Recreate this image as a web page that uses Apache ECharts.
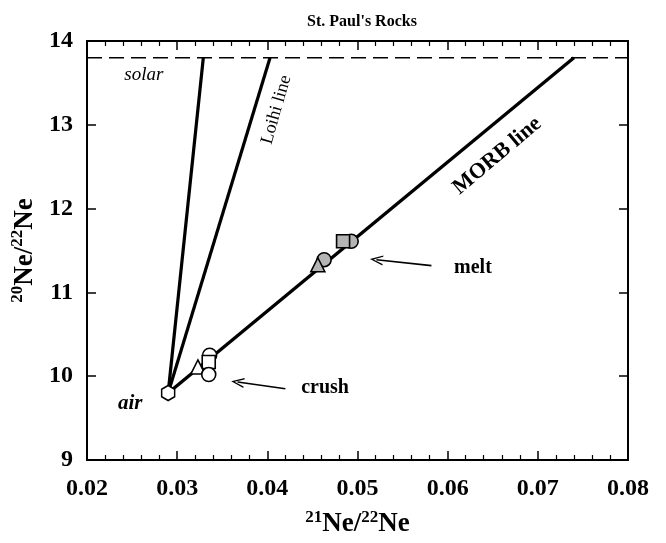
<!DOCTYPE html>
<html>
<head>
<meta charset="utf-8">
<script src="https://cdn.jsdelivr.net/npm/echarts@6/dist/echarts.min.js"></script>
<style>
html,body{margin:0;padding:0;background:#fff;}
#c{width:666px;height:543px;}
</style>
</head>
<body>
<div id="c"></div>
<script>
// ---- data ----
const xTicks = [0.02, 0.03, 0.04, 0.05, 0.06, 0.07, 0.08];
const yTicks = [9, 10, 11, 12, 13, 14];
const airPoint = [[0.0290, 9.80]];
const solarLine = [[0.0290, 9.80], [0.0329, 13.8]];
const loihiLine = [[0.0290, 9.80], [0.0403, 13.8]];
const morbLine = [[0.0290, 9.80], [0.0740, 13.8]];
const solarRef = [[0.02, 13.8], [0.08, 13.8]];
const crushCircleBack = [[0.0336, 10.25]];
const crushSquare = [[0.0335, 10.17]];
const crushCircleFront = [[0.0335, 10.02]];
const crushTriangle = [[0.0323, 10.11]];
const meltCircle = [[0.0493, 11.61], [0.0463, 11.39]];
const meltSquare = [[0.0484, 11.61]];
const meltTriangle = [[0.0456, 11.33]];
const annoText = ['solar', 'Loihi line', 'MORB line', 'air', 'crush', 'melt'];
const annoX = [0.0263, 0.0410, 0.0655, 0.0248, 0.0464, 0.0628];
const annoY = [13.60, 13.18, 12.63, 9.67, 9.86, 11.29];
const arrowTail = [[0.0420, 9.85], [0.0582, 11.32]];
const arrowTip = [[0.0367, 9.93], [0.0521, 11.39]];

// ---- styles ----
const SERIF = '"Liberation Serif","DejaVu Serif",serif';
const annoStyle = [
  {fontStyle:'italic', fontWeight:'normal', fontSize:19, rotate:0},
  {fontStyle:'normal', fontWeight:'normal', fontSize:18, rotate:74},
  {fontStyle:'normal', fontWeight:'bold', fontSize:22, rotate:40},
  {fontStyle:'italic', fontWeight:'bold', fontSize:21, rotate:0},
  {fontStyle:'normal', fontWeight:'bold', fontSize:20, rotate:0},
  {fontStyle:'normal', fontWeight:'bold', fontSize:20, rotate:0}
];
const hexPath = 'path://M5,0 L10,2.9 L10,8.7 L5,11.6 L0,8.7 L0,2.9 Z';
const chevron = 'path://M5,0 L10,12 L8.6,12 L5,3.2 L1.4,12 L0,12 Z';

const chart = echarts.init(document.getElementById('c'), null, {renderer:'canvas'});

const nameRich = {
  n:{fontSize:27, fontWeight:'bold', fontFamily:SERIF, color:'#000', lineHeight:29, verticalAlign:'bottom'},
  s:{fontSize:17, fontWeight:'bold', fontFamily:SERIF, color:'#000', lineHeight:17, verticalAlign:'top'}
};

function axisX(pos, showLabel){
  return {
    type:'value', position:pos, min:xTicks[0], max:xTicks[xTicks.length-1], interval:0.01,
    axisLine:{show:true, onZero:false, lineStyle:{color:'#000', width:2}},
    axisTick:{show:true, inside:true, length:9, lineStyle:{color:'#000', width:1.5}},
    minorTick:{show:true, splitNumber:5, length:5, lineStyle:{color:'#000', width:1.2}},
    splitLine:{show:false},
    axisLabel:{show:showLabel, color:'#000', fontFamily:SERIF, fontWeight:'bold', fontSize:24, margin:17,
      formatter:v=>v.toFixed(2)},
    name: showLabel ? '{s|21}{n|Ne/}{s|22}{n|Ne}' : '',
    nameLocation:'middle', nameGap:49,
    nameTextStyle:{color:'#000', fontFamily:SERIF, fontWeight:'bold', rich:nameRich}
  };
}
function axisY(pos, showLabel){
  return {
    type:'value', position:pos, min:yTicks[0], max:yTicks[yTicks.length-1], interval:1,
    axisLine:{show:true, onZero:false, lineStyle:{color:'#000', width:2}},
    axisTick:{show:true, inside:true, length:9, lineStyle:{color:'#000', width:1.5}},
    splitLine:{show:false},
    axisLabel:{show:showLabel, color:'#000', fontFamily:SERIF, fontWeight:'bold', fontSize:24, margin:14},
    name: showLabel ? '{s|20}{n|Ne/}{s|22}{n|Ne}' : '',
    nameLocation:'middle', nameGap:45, nameRotate:90,
    nameTextStyle:{color:'#000', fontFamily:SERIF, fontWeight:'bold', rich:nameRich}
  };
}

function lineSeries(data, width, type){
  return {type:'line', data:data, symbol:'none', silent:true, animation:false, z:2,
    lineStyle:{color:'#000', width:width, type:type||'solid'}};
}
function markerSeries(data, symbol, size, fill, z){
  return {type:'scatter', data:data, symbol:symbol, symbolSize:size, silent:true, animation:false, z:z,
    itemStyle:{color:fill, borderColor:'#000', borderWidth:1.6, opacity:1}};
}

const annoData = annoText.map((t,i)=>({
  value:[annoX[i], annoY[i]],
  label:{show:true, position:'inside', formatter:t, color:'#000', fontFamily:SERIF,
    textBorderWidth:0,
    fontStyle:annoStyle[i].fontStyle, fontWeight:annoStyle[i].fontWeight,
    fontSize:annoStyle[i].fontSize, rotate:annoStyle[i].rotate}
}));

const arrowData = arrowTail.map((t,i)=>[{coord:t},{coord:arrowTip[i]}]);

chart.setOption({
  animation:false,
  backgroundColor:'#fff',
  title:{text:"St. Paul's Rocks", left:357, top:9, textAlign:'center',
    textStyle:{color:'#000', fontFamily:SERIF, fontWeight:'bold', fontSize:16}},
  grid:{left:87, right:38, top:41, bottom:77, containLabel:false},
  xAxis:[axisX('bottom', true), axisX('top', false)],
  yAxis:[axisY('left', true), axisY('right', false)],
  series:[
    lineSeries(solarRef, 1.6, [15,7]),
    lineSeries(solarLine, 3.2),
    lineSeries(loihiLine, 3.2),
    lineSeries(morbLine, 3.4),
    markerSeries(crushCircleBack, 'circle', 14, '#fff', 5),
    markerSeries(crushSquare, 'rect', 13, '#fff', 6),
    markerSeries(crushCircleFront, 'circle', 14, '#fff', 7),
    markerSeries(crushTriangle, 'triangle', 14, '#fff', 6),
    markerSeries(meltCircle, 'circle', 14, '#b4b4b4', 5),
    markerSeries(meltSquare, 'rect', 13, '#b4b4b4', 6),
    markerSeries(meltTriangle, 'triangle', 14, '#b4b4b4', 7),
    markerSeries(airPoint, hexPath, [13,15], '#fff', 8),
    {type:'scatter', data:annoData, symbol:'circle', symbolSize:1, silent:true, z:9,
      itemStyle:{color:'rgba(0,0,0,0)', opacity:1}},
    {type:'line', data:[], symbol:'none', silent:true, z:9,
      markLine:{silent:true, animation:false, symbol:['none', chevron], symbolSize:[10,13],
        lineStyle:{color:'#000', width:1.6, type:'solid'}, label:{show:false}, data:arrowData}}
  ]
});
</script>
</body>
</html>
